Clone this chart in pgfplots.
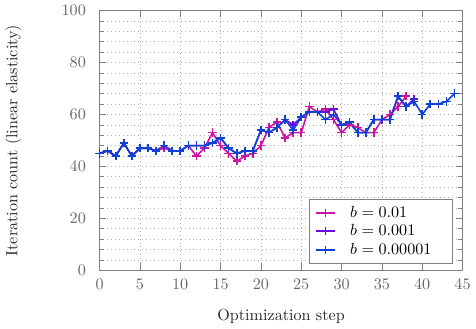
\documentclass[border=0pt]{standalone}
\usepackage{pgfplots}
\pgfplotsset{compat=1.18}
\definecolor{cmag}{RGB}{205,20,165}
\definecolor{cvio}{RGB}{105,10,220}
\definecolor{cblu}{RGB}{15,65,215}
\begin{document}
\begin{tikzpicture}
\begin{axis}[
  scale only axis,
  width=225pt, height=161pt,
  xmin=0, xmax=45, ymin=0, ymax=100,
  xtick={0,5,...,45},
  ytick={0,20,...,100},
  minor y tick num=4,
  grid=both,
  major grid style={dotted, gray!60},
  minor grid style={dotted, gray!60},
  axis line style={gray},
  every tick/.style={gray},
  tick label style={color=black!60},
  yticklabel style={xshift=-5pt},
  xticklabel style={yshift=-2pt},
  xlabel={Optimization step},
  ylabel={Iteration count (linear elasticity)},
  xlabel style={yshift=-5pt},
  ylabel style={yshift=18pt},
  label style={color=black!85},
  legend style={at={(0.973,0.027)}, anchor=south east, draw=gray, row sep=-1pt, inner xsep=4pt,
    nodes={inner xsep=9pt}},
  legend image code/.code={\draw[mark repeat=2,mark phase=2] plot coordinates {(0cm,0cm)(0.2cm,0cm)(0.4cm,0cm)};},
  legend cell align=left,
]
\addplot[cmag, line width=1pt, mark=+, mark size=2.6pt] coordinates {
(0,45)(1,46)(2,44)(3,49)(4,44)(5,47)(6,47)(7,46)(8,47)(9,46)(10,46)(11,48)(12,44)(13,47)(14,53)(15,48)(16,45)(17,42)(18,44)(19,45)(20,48)(21,55)(22,57)(23,51)(24,53)(25,53)(26,63)(27,61)(28,62)(29,58)(30,53)(31,56)(32,55)(33,53)(34,53)(35,58)(36,60)(37,63)(38,67)
};
\addlegendentry{$b = 0.01$}
\addplot[cvio, line width=1pt, mark=+, mark size=2.6pt] coordinates {
(0,45)(1,46)(2,44)(3,49)(4,44)(5,47)(6,47)(7,46)(8,48)(9,46)(10,46)(11,48)(12,48)(13,48)(14,49)(15,51)(16,47)(17,45)(18,46)(19,46)(20,54)(21,53)(22,55)(23,58)(24,56)(25,59)(26,61)(27,61)(28,61)(29,62)(30,56)(31,57)(32,53)(33,53)(34,58)(35,58)(36,58)(37,67)(38,63)(39,66)
};
\addlegendentry{$b = 0.001$}
\addplot[cblu, line width=1pt, mark=+, mark size=2.6pt] coordinates {
(0,45)(1,46)(2,44)(3,49)(4,44)(5,47)(6,47)(7,46)(8,48)(9,46)(10,46)(11,48)(12,48)(13,48)(14,49)(15,51)(16,47)(17,45)(18,46)(19,46)(20,54)(21,53)(22,55)(23,58)(24,54)(25,59)(26,61)(27,61)(28,58)(29,60)(30,56)(31,57)(32,53)(33,53)(34,58)(35,58)(36,58)(37,67)(38,63)(39,65)(40,60)(41,64)(42,64)(43,65)(44,68)
};
\addlegendentry{$b = 0.00001$}
\end{axis}
\end{tikzpicture}
\end{document}
